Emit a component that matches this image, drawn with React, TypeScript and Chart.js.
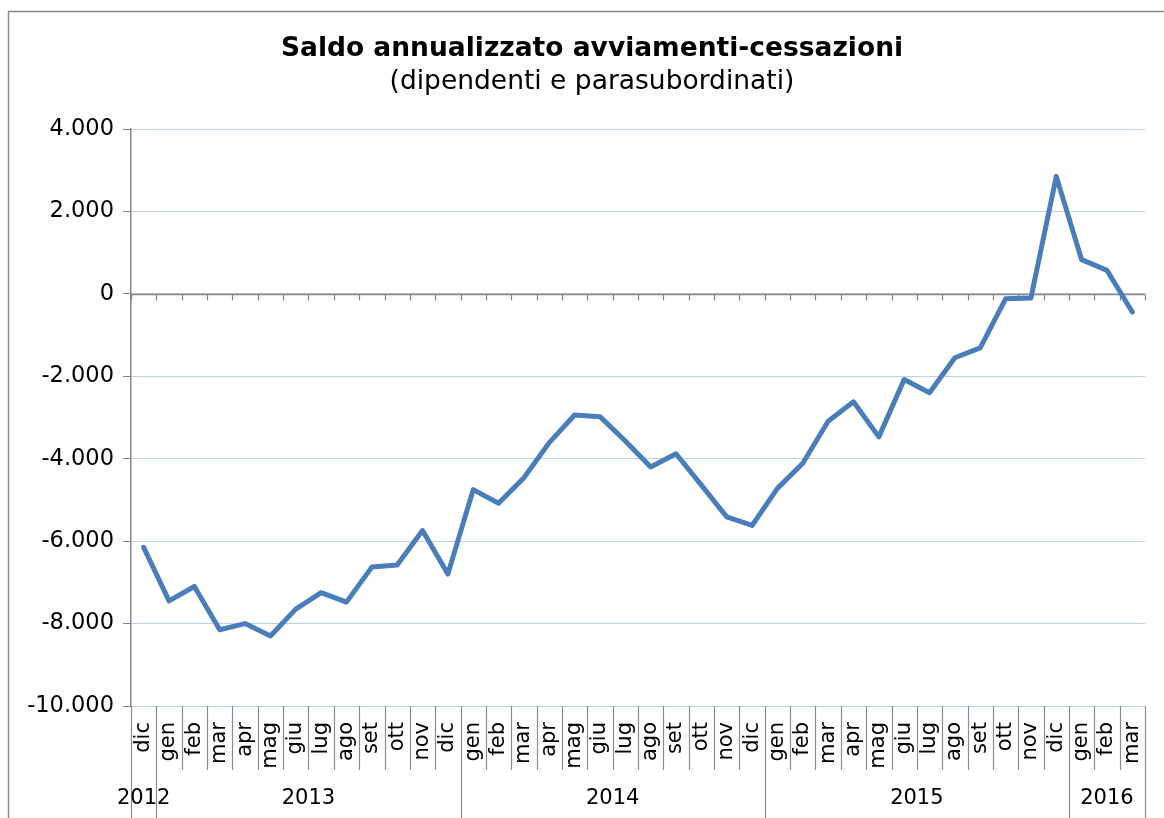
import React, { useEffect, useRef } from "react";
import { Chart, registerables } from "chart.js";

Chart.register(...registerables);

const months: string[] = [
  "dic",
  "gen", "feb", "mar", "apr", "mag", "giu", "lug", "ago", "set", "ott", "nov", "dic",
  "gen", "feb", "mar", "apr", "mag", "giu", "lug", "ago", "set", "ott", "nov", "dic",
  "gen", "feb", "mar", "apr", "mag", "giu", "lug", "ago", "set", "ott", "nov", "dic",
  "gen", "feb", "mar",
];

const saldo: number[] = [
  -6150,
  -7450, -7100, -8150, -8000, -8300, -7650, -7250, -7480, -6630, -6580, -5740, -6800,
  -4750, -5080, -4460, -3610, -2940, -2980, -3570, -4200, -3880, -4640, -5410, -5620,
  -4720, -4110, -3090, -2620, -3470, -2080, -2400, -1550, -1310, -120, -100, 2850,
  830, 570, -440,
];

const yearLabels: string[] = ["2012", "2013", "2014", "2015", "2016"];
const yearCounts: number[] = [1, 12, 12, 12, 3];

const titleText = "Saldo annualizzato avviamenti-cessazioni";
const subtitleText = "(dipendenti e parasubordinati)";

const FONT = "'DejaVu Sans', Verdana, sans-serif";

function formatIt(v: number): string {
  const neg = v < 0;
  const s = Math.abs(Math.round(v)).toString();
  const withDots = s.replace(/\B(?=(\d{3})+(?!\d))/g, ".");
  return (neg ? "-" : "") + withDots;
}

const decorPlugin = {
  id: "decor",
  beforeDatasetsDraw(chart: any) {
    const { ctx, chartArea, scales } = chart;
    const x = scales.x;
    const y = scales.y;
    const y0 = Math.round(y.getPixelForValue(0)) + 0.5;
    const step = x.getPixelForValue(1) - x.getPixelForValue(0);
    ctx.save();
    ctx.strokeStyle = "#868686";
    ctx.lineWidth = 1.5;
    ctx.beginPath();
    ctx.moveTo(chartArea.left, y0);
    ctx.lineTo(chartArea.right, y0);
    ctx.stroke();
    ctx.lineWidth = 1.2;
    for (let i = 0; i <= months.length; i++) {
      const bx = Math.round(x.getPixelForValue(i) - step / 2) + 0.5;
      ctx.beginPath();
      ctx.moveTo(bx, y0);
      ctx.lineTo(bx, y0 + 6);
      ctx.stroke();
    }
    ctx.restore();
  },
  afterDraw(chart: any) {
    const { ctx, chartArea, scales } = chart;
    const x = scales.x;
    const step = x.getPixelForValue(1) - x.getPixelForValue(0);
    const groupBounds = new Set<number>();
    let acc = 0;
    groupBounds.add(0);
    yearCounts.forEach((c) => {
      acc += c;
      groupBounds.add(acc);
    });
    ctx.save();
    // title and subtitle
    ctx.fillStyle = "#000";
    ctx.textAlign = "center";
    ctx.textBaseline = "middle";
    ctx.font = `bold 26.5px ${FONT}`;
    ctx.fillText(titleText, 592, 49);
    ctx.font = `26.5px ${FONT}`;
    ctx.fillText(subtitleText, 592, 82);
    // category separators
    ctx.strokeStyle = "#8c8c8c";
    ctx.lineWidth = 1.2;
    for (let i = 0; i <= months.length; i++) {
      const bx = Math.round(x.getPixelForValue(i) - step / 2) + 0.5;
      const long = groupBounds.has(i);
      ctx.beginPath();
      ctx.moveTo(bx, chartArea.bottom);
      ctx.lineTo(bx, long ? 830 : 770);
      ctx.stroke();
    }
    // year labels
    ctx.font = `21px ${FONT}`;
    let start = 0;
    yearLabels.forEach((lab, gi) => {
      const c = yearCounts[gi];
      const cx = (x.getPixelForValue(start) + x.getPixelForValue(start + c - 1)) / 2;
      ctx.fillText(lab, cx, 799);
      start += c;
    });
    // outer border
    ctx.strokeStyle = "#8a8a8a";
    ctx.lineWidth = 1.5;
    ctx.strokeRect(8.5, 11.5, 1300, 1000);
    ctx.restore();
  },
};

export default function App() {
  const canvasRef = useRef<HTMLCanvasElement | null>(null);

  useEffect(() => {
    if (!canvasRef.current) return;
    const chart = new Chart(canvasRef.current, {
      type: "line",
      data: {
        labels: months,
        datasets: [
          {
            data: saldo,
            borderColor: "#4a7ebb",
            borderWidth: 5,
            pointRadius: 0,
            tension: 0,
            borderJoinStyle: "round",
            borderCapStyle: "round",
            fill: false,
          },
        ],
      },
      options: {
        animation: false,
        responsive: false,
        maintainAspectRatio: false,
        layout: { padding: { left: 0, right: 19, top: 129, bottom: 0 } },
        plugins: {
          legend: { display: false },
          tooltip: { enabled: false },
          title: { display: false },
        },
        scales: {
          x: {
            type: "category",
            offset: true,
            grid: { display: false },
            border: { display: false },
            ticks: {
              color: "#000",
              font: { family: FONT, size: 21 },
              minRotation: 90,
              maxRotation: 90,
              autoSkip: false,
              padding: 8,
            },
            afterFit(scale: any) {
              scale.height = 112;
              scale.paddingLeft = 0;
              scale.paddingRight = 0;
            },
          },
          y: {
            min: -10000,
            max: 4000,
            border: { display: true, color: "#868686", width: 1.5 },
            grid: {
              color: "#bccfeb",
              lineWidth: 1,
              tickColor: "#868686",
              tickLength: 8,
            },
            ticks: {
              stepSize: 2000,
              color: "#000",
              font: { family: FONT, size: 22.5 },
              padding: 9,
              callback: (v: any) => formatIt(Number(v)),
            },
            afterFit(scale: any) {
              scale.width = 131;
            },
          },
        },
      },
      plugins: [decorPlugin],
    });
    return () => chart.destroy();
  }, []);

  return (
    <div style={{ position: "absolute", left: 0, top: 0, width: 1164, height: 818, background: "#fff" }}>
      <canvas ref={canvasRef} width={1164} height={818} style={{ width: 1164, height: 818 }} />
    </div>
  );
}
